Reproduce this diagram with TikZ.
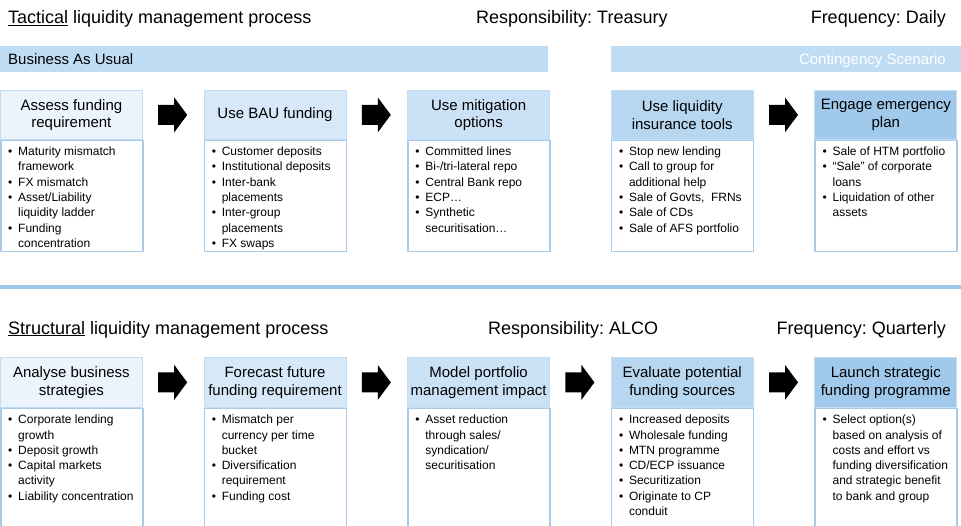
\documentclass[tikz,border=0pt]{standalone}
\usepackage{fontspec}
\setmainfont{Liberation Sans}
\frenchspacing
\usetikzlibrary{calc}
\definecolor{barblue}{HTML}{BEDDF4}
\definecolor{sepblue}{HTML}{9EC8EA}
\definecolor{headline}{HTML}{C4DCF1}
\definecolor{bodyline}{HTML}{A6CBEB}
\definecolor{hd1}{HTML}{EBF4FC}
\definecolor{hd2}{HTML}{D7E9F8}
\definecolor{hd3}{HTML}{CBE2F6}
\definecolor{hd4}{HTML}{B7D7F1}
\definecolor{hd5}{HTML}{A0C9EB}
\newcommand{\bul}{\makebox[10pt][l]{\textbullet}}
\newcommand{\ind}{\hspace*{10pt}}
% fat black arrow between two header boxes
\newcommand{\blockarrow}[2]{%
  \coordinate (m#1#2) at ($(#1.east)!0.5!(#2.west)$);
  \fill (m#1#2) ++(-15,-10) -- ++(16,0) -- ++(0,-7.5) -- ++(13,17.5)
    -- ++(-13,17.5) -- ++(0,-7.5) -- ++(-16,0) -- cycle;}
\begin{document}
\begin{tikzpicture}[x=1pt,y=-1pt,line join=round,
  head/.style={draw=headline,line width=0.8pt,minimum width=142pt,inner sep=0pt,align=center,anchor=north west,font=\fontsize{15}{17.5}\selectfont},
  body/.style={draw=bodyline,line width=1.5pt,fill=white,minimum width=142pt,inner sep=0pt,anchor=north west},
  items/.style={inner sep=0pt,align=left,anchor=north west,font=\fontsize{12}{15.3}\selectfont},
  title/.style={inner sep=0pt,font=\fontsize{18}{21}\selectfont},
  barlbl/.style={inner sep=0pt,font=\fontsize{15}{18}\selectfont}]
\useasboundingbox (0,0) rectangle (961,525);
% tactical
\node[title,anchor=base west] (tac) at (8,23.5) {\underline{Tactical} liquidity management process};
\node[title,anchor=base west] (resp1) at (476,23.5) {Responsibility: Treasury};
\node[title,anchor=base east] (freq1) at (946,23.5) {Frequency: Daily};
\fill[barblue] (0,46) rectangle (548,72);
\fill[barblue] (611,46) rectangle (961,72);
\node[barlbl,anchor=base west] (bau) at (8,64.5) {Business As Usual};
\node[barlbl,anchor=base east,text=white] (cont) at (946,64.5) {Contingency Scenario};
\foreach \i/\txt in {1/{Assess funding\\requirement},2/{Use BAU funding},3/{Use mitigation\\options},4/{Use liquidity\\insurance tools},5/{Engage emergency\\plan}}
  \node[head,fill=hd\i,minimum height=49pt] (ta\i) at ({(\i-1)*203.6},90) {\txt};
\foreach \i/\c in {%
  1/{\bul Maturity mismatch\\ \ind framework\\ \bul FX mismatch\\ \bul Asset/Liability\\ \ind liquidity ladder\\ \bul Funding\\ \ind concentration},
  2/{\bul Customer deposits\\ \bul Institutional deposits\\ \bul Inter-bank\\ \ind placements\\ \bul Inter-group\\ \ind placements\\ \bul FX swaps},
  3/{\bul Committed lines\\ \bul Bi-/tri-lateral repo\\ \bul Central Bank repo\\ \bul ECP…\\ \bul Synthetic\\ \ind securitisation…},
  4/{\bul Stop new lending\\ \bul Call to group for\\ \ind additional help\\ \bul Sale of Govts,~ FRNs\\ \bul Sale of CDs\\ \bul Sale of AFS portfolio},
  5/{\bul Sale of HTM portfolio\\ \bul “Sale” of corporate\\ \ind loans\\ \bul Liquidation of other\\ \ind assets}}{
  \node[body,minimum height=111pt] (ba\i) at (ta\i.south west) {};
  \node[items] (ia\i) at ([shift={(8,7)}]ba\i.north west) {\c};
}
\blockarrow{ta1}{ta2}
\blockarrow{ta2}{ta3}
\blockarrow{ta4}{ta5}
% separator
\draw[sepblue,line width=4pt] (0,287) -- (961,287);
% structural
\node[title,anchor=base west] (str) at (8,334) {\underline{Structural} liquidity management process};
\node[title,anchor=base west] (resp2) at (488,334) {Responsibility: ALCO};
\node[title,anchor=base east] (freq2) at (946,334) {Frequency: Quarterly};
\foreach \i/\txt in {1/{Analyse business\\strategies},2/{Forecast future\\funding requirement},3/{Model portfolio\\management impact},4/{Evaluate potential\\funding sources},5/{Launch strategic\\funding programme}}
  \node[head,fill=hd\i,minimum height=50pt] (sa\i) at ({(\i-1)*203.6},357) {\txt};
\foreach \i/\c in {%
  1/{\bul Corporate lending\\ \ind growth\\ \bul Deposit growth\\ \bul Capital markets\\ \ind activity\\ \bul Liability concentration},
  2/{\bul Mismatch per\\ \ind currency per time\\ \ind bucket\\ \bul Diversification\\ \ind requirement\\ \bul Funding cost},
  3/{\bul Asset reduction\\ \ind through sales/\\ \ind syndication/\\ \ind securitisation},
  4/{\bul Increased deposits\\ \bul Wholesale funding\\ \bul MTN programme\\ \bul CD/ECP issuance\\ \bul Securitization\\ \bul Originate to CP\\ \ind conduit},
  5/{\bul Select option(s)\\ \ind based on analysis of\\ \ind costs and effort vs\\ \ind funding diversification\\ \ind and strategic benefit\\ \ind to bank and group}}{
  \node[body,minimum height=118pt] (sb\i) at (sa\i.south west) {};
  \node[items] (si\i) at ([shift={(8,7)}]sb\i.north west) {\c};
}
\foreach \a/\b in {sa1/sa2,sa2/sa3,sa3/sa4,sa4/sa5}{
  \blockarrow{\a}{\b}
}
\end{tikzpicture}
\end{document}
